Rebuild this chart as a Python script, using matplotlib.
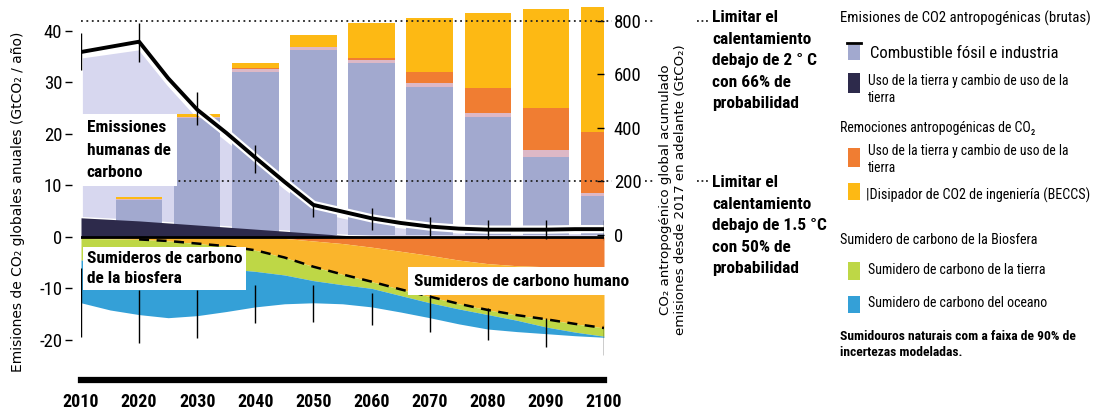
import matplotlib
matplotlib.use("Agg")
import matplotlib.pyplot as plt
import numpy as np
from matplotlib.patches import Rectangle
from matplotlib.lines import Line2D

# annual flows (GtCO2 / yr), read every 5 years
years = np.arange(2010, 2101, 5)
net_emissions = [35.9, 36.9, 37.9, 30.8, 24.7, 20.2, 15.4, 10.7, 6.2, 4.9, 3.6, 2.7, 2.0, 1.6, 1.4, 1.4, 1.4, 1.5, 1.5]
fossil_top = [35.0, 35.8, 36.6, 29.6, 23.4, 18.9, 14.3, 9.6, 5.3, 3.9, 2.8, 2.0, 1.4, 1.0, 0.8, 0.8, 0.8, 0.9, 0.9]
landuse_top = [3.7, 3.4, 3.1, 2.7, 2.3, 1.9, 1.5, 1.1, 0.7, 0.3, 0.0, 0.0, 0.0, 0.0, 0.0, 0.0, 0.0, 0.0, 0.0]
landuse_removal = [0, 0, 0, 0, 0, 0, 0, -0.3, -0.8, -1.3, -2.0, -2.8, -3.6, -4.5, -5.2, -5.6, -5.8, -5.8, -5.8]
human_sink_bottom = [-0.3, -0.4, -0.5, -0.8, -1.3, -1.8, -2.6, -4.0, -5.8, -7.3, -8.7, -10.2, -11.6, -13.0, -14.2, -15.2, -16.0, -16.9, -17.7]
ocean_top = [-4.5, -4.8, -5.0, -5.4, -5.8, -6.2, -6.7, -7.4, -8.5, -9.3, -10.0, -11.4, -12.8, -14.0, -15.1, -16.2, -17.5, -18.5, -19.3]
ocean_bottom = [-12.8, -14.2, -15.1, -15.7, -15.3, -14.5, -13.6, -13.0, -12.8, -13.0, -13.6, -14.6, -15.7, -16.9, -17.9, -18.4, -18.8, -19.2, -19.5]

# uncertainty whiskers, every decade
decades = np.arange(2010, 2101, 10)
emis_lo = [32.4, 34.0, 21.7, 12.4, 3.9, 1.4, 0.0, -0.4, -0.4, -0.6]
emis_hi = [39.6, 41.5, 28.2, 17.9, 6.6, 5.6, 3.9, 3.3, 3.3, 3.3]
sink_lo = [-19.4, -20.6, -19.6, -16.7, -16.5, -17.1, -18.4, -20.0, -21.4, -22.9]
sink_hi = [-6.0, -10.3, -10.3, -9.3, -9.3, -10.9, -11.3, -13.8, -15.7, -17.1]

# cumulative CO2 since 2017 (GtCO2), stacked bars
bar_years = np.arange(2020, 2101, 10)
cum_fossil = [130, 437, 610, 692, 643, 553, 441, 292, 145]
cum_landuse = [3, 5, 10, 10, 10, 15, 15, 26, 12]
cum_land_removal = [0, 0, 5, 0, 8, 41, 93, 157, 228]
cum_beccs = [9, 10, 18, 46, 131, 202, 281, 370, 467]
budgets = [800, 200]

left_ticks = [-20, -10, 0, 10, 20, 30, 40]
left_labels = ["-20", "-10", "0", "10", "20", "30", "40"]
right_ticks = [0, 200, 400, 600, 800]

C_AREA = "#D7D7EF"
C_FOSSIL = "#A2A9CF"
C_PINK = "#DDB8C6"
C_DARK = "#2D2A4B"
C_ORANGE = "#F07D32"
C_YELLOW = "#FDB914"
C_YELLOW2 = "#FAB52C"
C_GREEN = "#BED746"
C_BLUE = "#34A0D7"

NARROW = ["Roboto Condensed", "Liberation Sans Narrow", "Liberation Sans", "DejaVu Sans"]
W, H = 1095, 411


def fx(x):
    return x / W


def fy(y):
    return 1 - y / H


fig = plt.figure(figsize=(W / 100, H / 100), dpi=100)
ax = fig.add_axes([fx(81), 31 / H, 523 / W, 380 / H])
ax2 = ax.twinx()
ax3 = ax.twinx()
ax.set_zorder(0); ax2.set_zorder(1); ax3.set_zorder(2)
for a in (ax2, ax3):
    a.patch.set_visible(False)

ylim_l = (-27.8, 46.0)
for a in (ax, ax3):
    a.set_xlim(2010, 2100)
    a.set_ylim(*ylim_l)
ax2.set_ylim(-542, 878)

# --- areas (left scale) ---
ax.fill_between(years, landuse_top, fossil_top, color=C_AREA, ec="white", lw=2)
ax.fill_between(years, 0, landuse_removal, color=C_ORANGE, lw=0)
ax.fill_between(years, landuse_removal, human_sink_bottom, color=C_YELLOW2, lw=0)
ax.fill_between(years, human_sink_bottom, ocean_top, color=C_GREEN, lw=0)
ax.fill_between(years, ocean_top, ocean_bottom, color=C_BLUE, lw=0)

# --- cumulative bars (right scale) ---
bottom = np.zeros(len(bar_years))
for vals, col in [(cum_fossil, C_FOSSIL), (cum_landuse, C_PINK),
                  (cum_land_removal, C_ORANGE), (cum_beccs, C_YELLOW)]:
    ax2.bar(bar_years, vals, width=8, bottom=bottom, color=col, lw=0)
    bottom += np.array(vals)

for b in budgets:
    ax2.axhline(b, xmin=0, xmax=1.016, color="#222222", ls=(0, (1, 2)), lw=1.3, clip_on=False)
    ax2.axhline(b, xmin=1.078, xmax=1.093, color="#222222", ls=(0, (1, 2)), lw=1.3, clip_on=False)
    ax2.axhline(b, xmin=1.178, xmax=1.203, color="#222222", ls=(0, (1, 1.5)), lw=1.3, clip_on=False)

# --- overlay lines (left scale) ---
ax3.fill_between(years, 0, landuse_top, color=C_DARK, lw=0)
ax3.axhline(0, color="black", lw=2)
ax3.plot(years, net_emissions, color="white", lw=6, solid_capstyle="butt")
ax3.plot(years, net_emissions, color="black", lw=2.8)
ax3.plot(years[2:], human_sink_bottom[2:], color="black", lw=1.8, ls=(0, (4, 3)))
ax3.vlines(decades, emis_lo, emis_hi, color="black", lw=1)
ax3.vlines(decades, sink_lo, sink_hi, color="black", lw=1)

ax3.text(2011, 22.6, "Emissiones\nhumanas de\ncarbono", ha="left", va="top", fontsize=12.5,
         fontweight="bold", family=NARROW, linespacing=1.6,
         bbox=dict(fc="white", ec="none", pad=4.5), zorder=10)
ax3.text(2011, -2.7, "Sumideros de carbono\nde la biosfera", ha="left", va="top", fontsize=12.5,
         fontweight="bold", family=NARROW, linespacing=1.45,
         bbox=dict(fc="white", ec="none", pad=3), zorder=10)
ax3.text(2067.3, -8.6, "Sumideros de carbono humano", ha="left", va="center", fontsize=12.5,
         fontweight="bold", family=NARROW, bbox=dict(fc="white", ec="none", pad=4.5), zorder=10)

# --- axes styling ---
for a in (ax, ax2, ax3):
    for s in a.spines.values():
        s.set_visible(False)
ax.spines["bottom"].set_visible(True)
ax.spines["bottom"].set_linewidth(4.5)
ax.set_xticks(decades, [str(d) for d in decades])
ax.tick_params(axis="x", length=0, pad=9, labelsize=13)
for t in ax.get_xticklabels():
    t.set_fontweight("bold"); t.set_family(NARROW)
ax.spines["left"].set_position(("outward", 6.5))
ax.set_yticks(left_ticks, left_labels)
ax.tick_params(axis="y", direction="out", length=5, width=1, pad=2, labelsize=13.5)
for t in ax.get_yticklabels():
    t.set_family(NARROW)
ax2.set_yticks(right_ticks, [str(v) for v in right_ticks])
ax2.tick_params(axis="y", direction="in", length=5, width=1, pad=7, labelsize=13.5)
for t in ax2.get_yticklabels():
    t.set_family(NARROW)
ax3.yaxis.set_visible(False)
ax3.xaxis.set_visible(False)

fig.text(fx(18), fy(202), "Emisiones de CO₂ globales anuales (GtCO₂ / año)", rotation=90,
         ha="center", va="center", fontsize=10)
fig.text(fx(673), fy(190), "CO₂ antropogénico global acumulado\nemisiones desde 2017 en adelante (GtCO₂)",
         rotation=90, ha="center", va="center", fontsize=9.6, linespacing=1.15)

fig.text(fx(712), fy(10), "Limitar el\ncalentamiento\ndebajo de 2 ° C\ncon 66% de\nprobabilidad",
         ha="left", va="top", fontsize=12.5, fontweight="bold", family=NARROW, linespacing=1.55)
fig.text(fx(712), fy(175), "Limitar el\ncalentamiento\ndebajo de 1.5 °C\ncon 50% de\nprobabilidad",
         ha="left", va="top", fontsize=12.5, fontweight="bold", family=NARROW, linespacing=1.55)

# --- legend (drawn by hand to match the layout) ---
def lg_text(x, y, s, size=10, weight="normal", va="center"):
    fig.text(fx(x), fy(y), s, ha="left", va=va, fontsize=size, fontweight=weight,
             family=NARROW, linespacing=1.3)


def lg_patch(y0, y1, color):
    fig.add_artist(Rectangle((fx(848), fy(y1)), fx(860) - fx(848), fy(y0) - fy(y1),
                             transform=fig.transFigure, fc=color, ec="none"))


lg_text(840, 18, "Emisiones de CO2 antropogénicas (brutas)", size=10.6)
lg_patch(45, 60, C_FOSSIL)
fig.add_artist(Line2D([fx(847), fx(861)], [fy(43), fy(43)], transform=fig.transFigure, color="black", lw=2))
lg_text(870, 53, "Combustible fósil e industria", size=12)
lg_patch(73, 93, C_DARK)
lg_text(868, 74, "Uso de la tierra y cambio de uso de la\ntierra", size=9.8, va="top")
lg_text(840, 128, "Remociones antropogénicas de CO₂", size=10)
lg_patch(148, 167, C_ORANGE)
lg_text(868, 144, "Uso de la tierra y cambio de uso de la\ntierra", size=9.8, va="top")
lg_patch(183, 200, C_YELLOW)
lg_text(866, 195, "|Disipador de CO2 de ingeniería (BECCS)", size=10.2)
lg_text(840, 240, "Sumidero de carbono de la Biosfera", size=10.2)
lg_patch(262, 280, C_GREEN)
lg_text(868, 270, "Sumidero de carbono de la tierra", size=10)
lg_patch(296, 313, C_BLUE)
lg_text(868, 303, "Sumidero de carbono del oceano", size=10)
lg_text(840, 330, "Sumidouros naturais com a faixa de 90% de\nincertezas modeladas.", size=9.7, weight="bold", va="top")

fig.savefig("out.png", dpi=100)
